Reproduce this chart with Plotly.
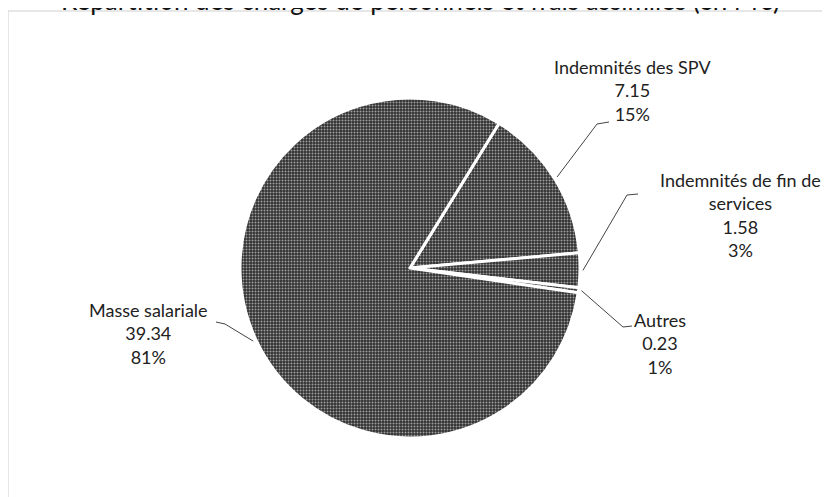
import math
import plotly.graph_objects as go

# ---- data ----
labels = ["Indemnités des SPV", "Indemnités de fin de services", "Autres", "Masse salariale"]
label_text = ["Indemnités des SPV", "Indemnités de fin de<br>services", "Autres", "Masse salariale"]
values = [7.15, 1.58, 0.23, 39.34]
pct_text = ["15%", "3%", "1%", "81%"]
title_text = "Répartition des charges de personnels et frais assimilés (en M€)"

W, H = 830, 497
OFF = 8  # page body margin
CX, CY, R = 410, 268, 170   # page pixel coords
START = 31.6  # degrees clockwise from 12 o'clock where first slice starts


def px(x):
    return (x - OFF) / W


def py(y):
    return 1 - (y - OFF) / H


fig = go.Figure()
fig.add_trace(go.Pie(
    labels=labels,
    values=values,
    sort=False,
    direction="clockwise",
    rotation=START,
    textinfo="none",
    hoverinfo="label+value+percent",
    marker=dict(
        colors=["#3d3d3d"] * 4,
        line=dict(color="white", width=3),
        pattern=dict(shape=".", fgcolor="#a0a0a0", bgcolor="#303030", size=3, solidity=0.35),
    ),
    domain=dict(x=[px(CX - R), px(CX + R)], y=[py(CY + R), py(CY - R)]),
    showlegend=False,
))

# label placement (layout) : text center x, first line y, elbow points (page px)
label_pos = [
    dict(tx=632, ty=65, elbow=(597, 124), end=(609, 122)),
    dict(tx=740, ty=178, elbow=(627, 195), end=(638, 194)),
    dict(tx=660, ty=318, elbow=(623, 327), end=(632, 326)),
    dict(tx=148, ty=308, elbow=(225, 324), end=(216, 322)),
]

total = sum(values)
cum = 0.0
shapes = []
annotations = []
for i, v in enumerate(values):
    mid = START + 360 * (cum + v / 2) / total
    cum += v
    a = math.radians(mid)
    ex = CX + (R + 3) * math.sin(a)
    ey = CY - (R + 3) * math.cos(a)
    lp = label_pos[i]
    path = "M {} {} L {} {} L {} {}".format(
        px(ex), py(ey), px(lp["elbow"][0]), py(lp["elbow"][1]), px(lp["end"][0]), py(lp["end"][1]))
    shapes.append(dict(type="path", path=path, xref="paper", yref="paper",
                       line=dict(color="#444444", width=1)))
    txt = "{}<br>{:.2f}<br>{}".format(label_text[i], v, pct_text[i])
    annotations.append(dict(
        x=px(lp["tx"]), y=py(lp["ty"] - 11), xref="paper", yref="paper",
        text=txt, showarrow=False, xanchor="center", yanchor="top", align="center",
        font=dict(family="Lato, Open Sans, sans-serif", size=18, color="#222222"),
    ))

# title (partly cut at the top, as in the reference)
annotations.append(dict(
    x=px(420), y=py(0), xref="paper", yref="paper", text=title_text,
    showarrow=False, xanchor="center", yanchor="middle",
    font=dict(family="Lato, Open Sans, sans-serif", size=26, color="#111111"),
))

# frame around the chart area
shapes.append(dict(type="rect", xref="paper", yref="paper",
                   x0=px(8), y0=py(520), x1=px(850), y1=py(11),
                   line=dict(color="#cfcfcf", width=1), fillcolor="rgba(0,0,0,0)", layer="below"))

fig.update_layout(
    width=W, height=H,
    margin=dict(l=0, r=0, t=0, b=0),
    paper_bgcolor="white",
    plot_bgcolor="white",
    shapes=shapes,
    annotations=annotations,
)

fig.write_html("out.html")
